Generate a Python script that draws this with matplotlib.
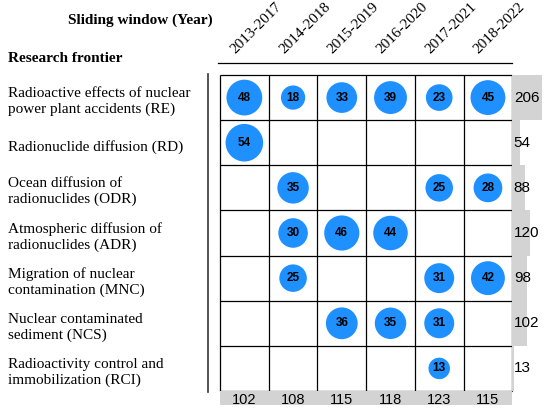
import numpy as np
import matplotlib
matplotlib.use("Agg")
import matplotlib.pyplot as plt
from matplotlib.lines import Line2D

# data
windows = ["2013-2017", "2014-2018", "2015-2019", "2016-2020", "2017-2021", "2018-2022"]
frontiers = [
    "Radioactive effects of nuclear\npower plant accidents (RE)",
    "Radionuclide diffusion (RD)",
    "Ocean diffusion of\nradionuclides (ODR)",
    "Atmospheric diffusion of\nradionuclides (ADR)",
    "Migration of nuclear\ncontamination (MNC)",
    "Nuclear contaminated\nsediment (NCS)",
    "Radioactivity control and\nimmobilization (RCI)",
]
counts_RE = [48, 18, 33, 39, 23, 45]
counts_RD = [54, 0, 0, 0, 0, 0]
counts_ODR = [0, 35, 0, 0, 25, 28]
counts_ADR = [0, 30, 46, 44, 0, 0]
counts_MNC = [0, 25, 0, 0, 31, 42]
counts_NCS = [0, 0, 36, 35, 31, 0]
counts_RCI = [0, 0, 0, 0, 13, 0]

counts = np.array([counts_RE, counts_RD, counts_ODR, counts_ADR,
                   counts_MNC, counts_NCS, counts_RCI])
row_totals = counts.sum(axis=1)
col_totals = counts.sum(axis=0)

W, H = 550, 412
fig = plt.figure(figsize=(W / 100, H / 100), dpi=100)

def fx(x):
    return x / W

def fy(y):
    return 1 - y / H

serif = "Liberation Serif"
sans = "Liberation Sans"
blue = "#1E90FF"
gray = "#D3D3D3"

# grid area in pixels
gl, gr, gt, gb = 220, 512.3, 75, 391
nrow, ncol = counts.shape
col_w = (gr - gl) / ncol
row_h = (gb - gt) / nrow
px_per_unit = 0.146  # gray bar length per paper

ax = fig.add_axes([fx(gl), fy(gb), (gr - gl) / W, (gb - gt) / H])
ax.set_xlim(0, ncol)
ax.set_ylim(nrow, 0)
ax.axis("off")
ax.vlines(np.arange(ncol + 1), 0, nrow, color="black", lw=0.9, zorder=1, clip_on=False)
ax.hlines(np.arange(nrow + 1), 0, ncol, color="black", lw=0.9, zorder=1, clip_on=False)

rr, cc = np.nonzero(counts)
vals = counts[rr, cc]
diam_px = 6.0 + 4.3 * np.sqrt(vals)
ax.scatter(cc + 0.5, rr + 0.5, s=(diam_px * 0.72) ** 2, color=blue,
           linewidths=0, zorder=2, clip_on=False)
for r, c, v in zip(rr, cc, vals):
    ax.text(c + 0.5, r + 0.5, str(v), ha="center", va="center", fontsize=8.5,
            fontweight="bold", family=sans, zorder=3)

for i, w in enumerate(windows):
    fig.text(fx(gl + (i + 0.5) * col_w - 7), fy(56), w, rotation=45,
             rotation_mode="anchor", ha="left", va="bottom", fontsize=11,
             family=serif)

# right-hand gray bars with row totals
axr = fig.add_axes([fx(gr), fy(gb), (W - gr) / W, (gb - gt) / H])
axr.barh(np.arange(nrow) + 0.5, row_totals, height=1.0, color=gray, lw=0)
axr.set_xlim(0, (W - gr) / px_per_unit)
axr.set_ylim(nrow, 0)
axr.axis("off")
for i, t in enumerate(row_totals):
    axr.text(1.5 / px_per_unit, i + 0.5, str(t), ha="left", va="center",
             fontsize=11, family=sans)

# bottom gray bars with column totals (clipped by the frame)
bb = 405
axb = fig.add_axes([fx(gl), fy(bb), (gr - gl) / W, (bb - gb) / H])
axb.bar(np.arange(ncol) + 0.5, col_totals, width=1.0, color=gray, lw=0)
axb.set_xlim(0, ncol)
axb.set_ylim((bb - gb) / px_per_unit, 0)
axb.axis("off")
for i, t in enumerate(col_totals):
    fig.text(fx(gl + (i + 0.5) * col_w), fy(400), str(t),
             ha="center", va="center", fontsize=10.5, family=sans)

# row labels
for i, lab in enumerate(frontiers):
    fig.text(fx(8), fy(gt + (i + 0.5) * row_h + 4), lab, ha="left", va="center",
             fontsize=11, family=serif, linespacing=1.25)

fig.text(fx(213), fy(20), "Sliding window (Year)", ha="right", va="center",
         fontsize=11, fontweight="bold", family=serif)
fig.text(fx(8), fy(59), "Research frontier", ha="left", va="center",
         fontsize=11, fontweight="bold", family=serif)

fig.add_artist(Line2D([fx(218), fx(gr)], [fy(63), fy(63)], color="black", lw=0.9))
fig.add_artist(Line2D([fx(208), fx(208)], [fy(74), fy(392)], color="#333333", lw=1.2))

fig.savefig("out.png", dpi=100)
